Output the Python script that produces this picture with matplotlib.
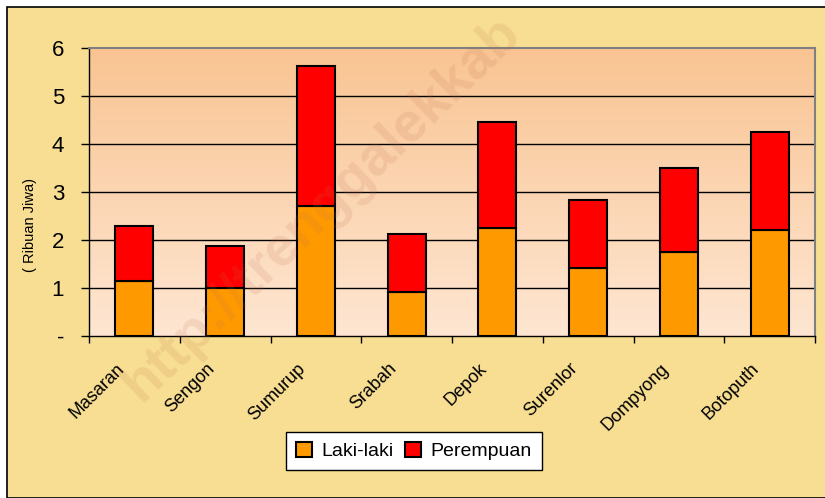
import numpy as np
import matplotlib
matplotlib.use("Agg")
import matplotlib.pyplot as plt
from matplotlib.patches import Rectangle
from matplotlib.transforms import ScaledTranslation, blended_transform_factory

plt.rcParams['font.family'] = ['Liberation Sans', 'DejaVu Sans']

# data (ribuan jiwa)
desa = ['Masaran', 'Sengon', 'Sumurup', 'Srabah', 'Depok', 'Surenlor', 'Dompyong', 'Botoputh']
laki = [1.15, 1.0, 2.71, 0.92, 2.25, 1.42, 1.75, 2.2]
perempuan = [1.14, 0.875, 2.91, 1.2, 2.21, 1.41, 1.75, 2.05]
y_ticks = [0, 1, 2, 3, 4, 5, 6]
y_labels = ['-', '1', '2', '3', '4', '5', '6']

fig = plt.figure(figsize=(8.25, 4.98), dpi=100)
fig.patch.set_facecolor('white')

# latar belakang dengan bingkai hitam
bg = Rectangle((7 / 825, 0), 1, 1 - 7 / 498, transform=fig.transFigure,
               facecolor='#F8DE92', edgecolor='black', linewidth=1.2, zorder=-1)
fig.patches.append(bg)

# watermark
fig.text(0.39, 0.58, 'http://trenggalekkab', fontsize=40, fontweight='bold',
         color='#C07050', alpha=0.15, rotation=44, ha='center', va='center', zorder=4)

ax = fig.add_axes([89 / 825, 1 - 336 / 498, (815 - 89) / 825, (336 - 48) / 498])

# gradasi area plot
grad = np.linspace(0, 1, 256).reshape(-1, 1)
top = np.array([0xF9, 0xC4, 0x92]) / 255
bot = np.array([0xFE, 0xE6, 0xD2]) / 255
img = bot + (top - bot) * grad
ax.imshow(img[:, None, :].repeat(2, axis=1), extent=[0, 1, 0, 1], transform=ax.transAxes,
          aspect='auto', origin='lower', zorder=0)

x = np.arange(len(desa))
ax.bar(x, laki, width=0.42, color='#FF9900', edgecolor='black', linewidth=1.5,
       label='Laki-laki', zorder=3)
ax.bar(x, perempuan, width=0.42, bottom=laki, color='#FF0000', edgecolor='black',
       linewidth=1.5, label='Perempuan', zorder=3)

ax.set_xlim(-0.5, len(desa) - 0.5)
ax.set_ylim(0, 6)
ax.set_yticks(y_ticks)
ax.set_yticklabels(y_labels, fontsize=16)
for yv in y_ticks[1:-1]:
    ax.axhline(yv, color='black', linewidth=1, zorder=2)

# tick di batas antar kategori, label miring digeser ke kiri
ax.set_xticks(np.arange(len(desa) + 1) - 0.5)
ax.set_xticklabels([])
ax.tick_params(axis='x', length=5, direction='out', width=1)
ax.tick_params(axis='y', length=6, direction='out', width=1, pad=12)
trans = blended_transform_factory(ax.transData, ax.transAxes) + \
    ScaledTranslation(-19 / 100, -24 / 100, fig.dpi_scale_trans)
for xi, name in zip(x, desa):
    ax.text(xi, 0, name, transform=trans, rotation=45, rotation_mode='anchor',
            ha='right', va='top', fontsize=13, clip_on=False)

for s in ['top', 'right']:
    ax.spines[s].set_color('#808080')
    ax.spines[s].set_linewidth(1.5)
for s in ['left', 'bottom']:
    ax.spines[s].set_color('black')
    ax.spines[s].set_linewidth(1)

fig.text(30 / 825, 1 - 225 / 498, '( Ribuan Jiwa)', rotation=90, fontsize=10.5,
         ha='center', va='center')

leg = fig.legend(loc='center', bbox_to_anchor=(414 / 825, 1 - 451 / 498), ncol=2,
                 fontsize=14, frameon=True, fancybox=False, handlelength=0.8,
                 handleheight=0.8, handletextpad=0.5, columnspacing=0.6,
                 borderpad=0.5)
leg.get_frame().set_edgecolor('black')
leg.get_frame().set_linewidth(1)
leg.get_frame().set_facecolor('white')
leg.get_frame().set_alpha(1)

fig.savefig('out.png', dpi=100, facecolor=fig.get_facecolor())
